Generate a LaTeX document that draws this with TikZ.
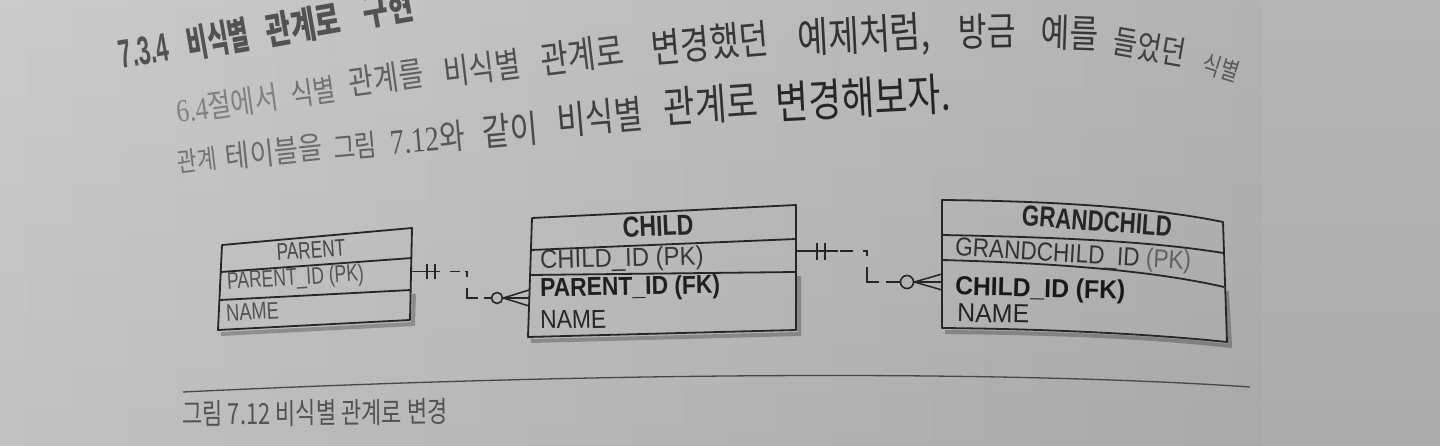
\documentclass[tikz,border=0pt]{standalone}
\usepackage{graphicx}
\usepackage{fontspec}
\setmainfont{Liberation Sans}
\newfontfamily\kr{Noto Sans CJK KR}
\newfontfamily\krser{Liberation Serif}
\newcommand{\xsc}[2]{\scalebox{#1}[1]{#2}}
\newcommand{\fsz}[1]{\fontsize{#1}{#1}\selectfont}
\definecolor{ink}{HTML}{262626}
\definecolor{bgL}{HTML}{C9C9CA}
\definecolor{bgM}{HTML}{C6C6C7}
\definecolor{bgR}{HTML}{B0B0B1}
\definecolor{bgS}{HTML}{B3B3B4}
\begin{document}
\begin{tikzpicture}[x=1pt,y=-1pt,
  kw/.style={inner sep=0pt, font=\kr},
  dw/.style={inner sep=0pt, font=\rmfamily},
  tb/.style={draw=ink, line width=1.8pt, line join=round},
  rel/.style={draw=ink, line width=1.8pt},
  crow/.style={draw=ink, line width=1.5pt},
  shad/.style={draw=black, opacity=0.25, line width=4pt},
  ring/.style={circle, draw=ink, line width=1.6pt, inner sep=0pt},
]
\useasboundingbox (0,0) rectangle (1440,446);
\shade[left color=bgL, middle color=bgM, right color=bgR] (0,0) rectangle (1262,446);
\fill[bgS] (1262,0) rectangle (1440,446);
\shade[top color=white, bottom color=black, opacity=0.04] (0,0) rectangle (1440,446);
\clip (0,0) rectangle (1440,446);

% ---------- heading ----------
\node[dw, rotate=10, text=black!68] (h1) at (144,51) {\fsz{40}\xsc{0.56}{\bfseries 7.3.4}};
\node[kw, rotate=10, text=black!68] (h2) at (218,39) {\fsz{38}\xsc{0.6}{\bfseries 비식별}};
\node[kw, rotate=10, text=black!68] (h3) at (303,25) {\fsz{38}\xsc{0.72}{\bfseries 관계로}};
\node[kw, rotate=10, text=black!68] (h4) at (388,8) {\fsz{38}\xsc{0.72}{\bfseries 구현}};

% ---------- body line 1 ----------
\node[kw, rotate=8, text=black!50] (a1) at (227,104) {\fsz{32}\xsc{0.8}{{\krser 6.4}절에서}};
\node[kw, rotate=8, text=black!55] (a2) at (313,92) {\fsz{31}\xsc{0.8}{식별}};
\node[kw, rotate=8, text=black!62] (a3) at (386,78) {\fsz{34}\xsc{0.8}{관계를}};
\node[kw, rotate=7, text=black!68] (a4) at (482,68) {\fsz{35}\xsc{0.8}{비식별}};
\node[kw, rotate=7, text=black!72] (a5) at (582,55) {\fsz{38}\xsc{0.8}{관계로}};
\node[kw, rotate=5, text=black!78] (a6) at (710,43) {\fsz{40}\xsc{0.8}{변경했던}};
\node[kw, rotate=3, text=black!80] (a7) at (864,37) {\fsz{42}\xsc{0.8}{예제처럼,}};
\node[kw, rotate=1, text=black!80] (a8) at (987,31) {\fsz{39}\xsc{0.8}{방금}};
\node[kw, rotate=-2, text=black!78] (a9) at (1070,33) {\fsz{39}\xsc{0.8}{예를}};
\node[kw, rotate=-10, text=black!75] (a10) at (1150,47) {\fsz{33}\xsc{0.8}{들었던}};
\node[kw, rotate=-18, text=black!65] (a11) at (1221,68) {\fsz{25}\xsc{0.8}{식별}};

% ---------- body line 2 ----------
\node[kw, rotate=7, text=black!55] (b1) at (197,160) {\fsz{27}\xsc{0.8}{관계}};
\node[kw, rotate=6, text=black!58] (b2) at (274,152) {\fsz{31}\xsc{0.85}{테이블을}};
\node[kw, rotate=5, text=black!62] (b3) at (355,146) {\fsz{30}\xsc{0.8}{그림}};
\node[kw, rotate=5, text=black!66] (b4) at (428,138) {\fsz{35}\xsc{0.8}{{\krser 7.12}와}};
\node[kw, rotate=5, text=black!70] (b5) at (510,130) {\fsz{38}\xsc{0.8}{같이}};
\node[kw, rotate=5, text=black!75] (b6) at (600,117) {\fsz{39}\xsc{0.8}{비식별}};
\node[kw, rotate=4, text=black!80] (b7) at (711,104) {\fsz{43}\xsc{0.8}{관계로}};
\node[kw, rotate=3, text=black!85] (b8) at (863,98) {\fsz{45}\xsc{0.8}{변경해보자.}};

% ---------- PARENT ----------
\coordinate (pTL) at (222,245); \coordinate (pTR) at (412,228);
\coordinate (pH1) at (221,272); \coordinate (pH2) at (412,258);
\coordinate (pD1) at (220,300); \coordinate (pD2) at (411,290);
\coordinate (pBL) at (218,330); \coordinate (pBR) at (410,320);
\draw[shad] ([shift={(3,4)}]pBL) -- ([shift={(3,4)}]pBR) -- ([shift={(3,4)}]pD2);
\draw[tb] (pTL) -- (pTR) -- (pBR) -- (pBL) -- cycle;
\draw[tb] (pH1) -- (pH2);
\draw[tb] (pD1) -- (pD2);
\node[dw, rotate=4, text=black!72] (pT) at (311,250) {\fsz{24}\xsc{0.72}{PARENT}};
\node[dw, rotate=3.5, anchor=west, text=black!68] (pA) at (227,283) {\fsz{24}\xsc{0.73}{PARENT\_ID (PK)}};
\node[dw, rotate=3, anchor=west, text=black!68] (pB) at (226,313) {\fsz{24}\xsc{0.76}{NAME}};

% ---------- CHILD ----------
\coordinate (cTL) at (532,218); \coordinate (cTR) at (796,205);
\coordinate (cH1) at (531,250); \coordinate (cH2) at (796,239);
\coordinate (cD1) at (530,275); \coordinate (cD2) at (796,272);
\coordinate (cBL) at (528,337); \coordinate (cBR) at (796,330);
\draw[shad] ([shift={(3,4)}]cBL) -- ([shift={(3,4)}]cBR) -- ([shift={(3,4)}]cD2);
\draw[tb] (cTL) -- (cTR) -- (cBR) -- (cBL) -- cycle;
\draw[tb] (cH1) -- (cH2);
\draw[tb] (cD1) -- (cD2);
\node[dw, rotate=2.5, text=ink] (cT) at (658,226) {\fsz{29}\xsc{0.8}{\bfseries CHILD}};
\node[dw, rotate=1.5, anchor=west, text=black!78] (cA) at (540,262) {\fsz{26}\xsc{0.92}{CHILD\_ID (PK)}};
\node[dw, rotate=1, anchor=west, text=black!88] (cB) at (540,290) {\fsz{26}\xsc{0.88}{\bfseries PARENT\_ID (FK)}};
\node[dw, rotate=1, anchor=west, text=black!85] (cC) at (540,320) {\fsz{26}\xsc{0.88}{NAME}};

% ---------- GRANDCHILD ----------
\coordinate (gTL) at (942,200); \coordinate (gTR) at (1223,222);
\coordinate (gH1) at (942,235); \coordinate (gH2) at (1223,253);
\coordinate (gD1) at (942,260); \coordinate (gD2) at (1224,287);
\coordinate (gBL) at (942,328); \coordinate (gBR) at (1227,342);
\draw[shad] ([shift={(3,4)}]gBL) .. controls (1053,333) and (1153,337) .. ([shift={(3,4)}]gBR) -- ([shift={(3,4)}]gD2);
\draw[tb] (gTL) .. controls (1050,201) and (1150,207) .. (gTR) -- (gBR)
   .. controls (1150,334) and (1050,329) .. (gBL) -- cycle;
\draw[tb] (gH1) .. controls (1050,237) and (1150,241) .. (gH2);
\draw[tb] (gD1) .. controls (1050,263) and (1150,270) .. (gD2);
\node[dw, rotate=-4, text=ink] (gT) at (1097,221) {\fsz{29}\xsc{0.77}{\bfseries GRANDCHILD}};
\node[dw, rotate=-3.3, anchor=west, text=black!80] (gA) at (955,249) {\fsz{26}\xsc{0.87}{GRANDCHILD\_ID \textcolor{black!62}{(PK)}}};
\node[dw, rotate=-1.5, anchor=west, text=black!90] (gB) at (955,288) {\fsz{26}\xsc{0.95}{\bfseries CHILD\_ID (FK)}};
\node[dw, rotate=-1, anchor=west, text=black!86] (gC) at (957,313) {\fsz{26}\xsc{0.96}{NAME}};

% ---------- relationship PARENT - CHILD ----------
\coordinate (p-out) at (412,271.5);
\coordinate (r1s) at (440,271.5);
\coordinate (r1a) at (467,271.5);
\coordinate (r1b) at (467,298);
\node[ring, minimum size=11pt] (o1) at (497,298) {};
\coordinate (c-ina) at (529,290); \coordinate (c-in) at (529,298); \coordinate (c-inb) at (529,306);
\coordinate (t1a) at (427,264); \coordinate (t1b) at (427,279);
\coordinate (t2a) at (435,264); \coordinate (t2b) at (435,279);
\draw[rel] (p-out) -- (r1s);
\draw[rel] (t1a) -- (t1b);
\draw[rel] (t2a) -- (t2b);
\draw[rel, dash pattern=on 10pt off 5pt on 8pt off 11pt on 20pt off 6pt on 20pt off 10pt, dash phase=80pt]
  (r1s) -- (r1a) -- (r1b) -- (o1.west);
\draw[crow] (o1.east) -- (c-ina);
\draw[crow] (o1.east) -- (c-in);
\draw[crow] (o1.east) -- (c-inb);

% ---------- relationship CHILD - GRANDCHILD ----------
\coordinate (c-out) at (796,251);
\coordinate (r2s) at (838,251);
\coordinate (r2a) at (867,251);
\coordinate (r2b) at (867,282);
\node[ring, minimum size=13pt] (o2) at (907,282) {};
\coordinate (g-ina) at (942,274); \coordinate (g-in) at (942,282); \coordinate (g-inb) at (942,290);
\coordinate (t3a) at (817,243); \coordinate (t3b) at (817,260);
\coordinate (t4a) at (825,243); \coordinate (t4b) at (825,260);
\draw[rel] (c-out) -- (r2s);
\draw[rel] (t3a) -- (t3b);
\draw[rel] (t4a) -- (t4b);
\draw[rel, dash pattern=on 13pt off 10pt on 9pt off 11pt on 27pt off 7pt on 20pt off 2pt, dash phase=97pt]
  (r2s) -- (r2a) -- (r2b) -- (o2.west);
\draw[crow] (o2.east) -- (g-ina);
\draw[crow] (o2.east) -- (g-in);
\draw[crow] (o2.east) -- (g-inb);

% ---------- caption ----------
\coordinate (ruleL) at (183,392);
\coordinate (ruleR) at (1250,387);
\draw[draw=black!72, line width=1.3pt] (ruleL) .. controls (600,372) and (1000,370) .. (ruleR);
\node[kw, anchor=west, rotate=0.5, text=black!68] (cap) at (182,414) {\fsz{29}\xsc{0.76}{그림 7.12 비식별 관계로 변경}};
\end{tikzpicture}
\end{document}
